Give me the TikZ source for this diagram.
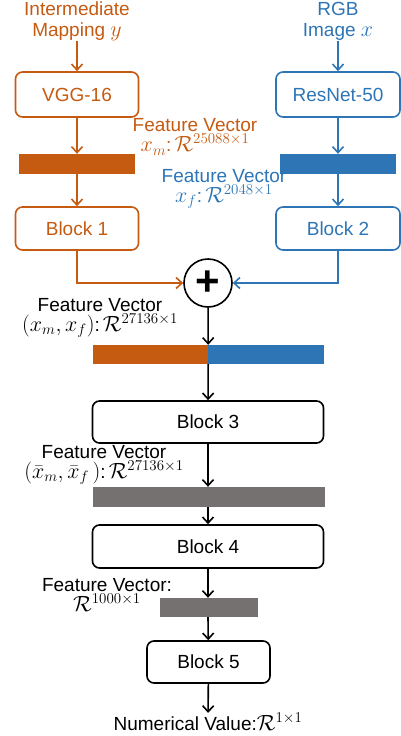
\RequirePackage{fix-cm}
\documentclass[tikz,border=0pt]{standalone}
\usepackage{amsmath}
\usepackage{fontspec}
\setmainfont{Liberation Sans}
\DeclareMathSizes{19}{22}{15}{11}
\usepackage{tikz}
\usetikzlibrary{arrows.meta,positioning}
\definecolor{vggorange}{HTML}{C55A11}
\definecolor{resblue}{HTML}{2E75B6}
\definecolor{vecgray}{HTML}{767171}

\begin{document}
\begin{tikzpicture}[
  x=1pt,y=-1pt,
  font=\fontsize{19}{20}\selectfont,
  block/.style={rectangle,draw=black,rounded corners=7pt,line width=1.6pt,
    minimum width=123pt,minimum height=43pt,inner sep=0pt,align=center},
  wideblock/.style={block,minimum width=231pt},
  vecbar/.style={rectangle,inner sep=0pt,minimum height=20pt},
  lbl/.style={align=center,inner sep=0pt},
  title/.style={lbl,anchor=north,font=\fontsize{19}{21}\selectfont},
  arrow/.style={-{Straight Barb[length=6pt,width=11pt]},line width=1.6pt,black},
]
\useasboundingbox (0,0) rectangle (400,736);

% Inputs
\node[title,text=vggorange] (inmap) at (77,2) {Intermediate\\Mapping $y$};
\node[title,text=resblue] (rgb) at (338,2) {RGB\\Image $x$};

% Two branches
\node[block,draw=vggorange,text=vggorange,minimum height=45pt] (vgg) at (77,94.5) {VGG-16};
\node[vecbar,fill=vggorange,minimum width=116pt] (vecm) at (77,164) {};
\node[block,draw=vggorange,text=vggorange] (blk1) at (77,228.5) {Block 1};

\node[block,draw=resblue,text=resblue,minimum width=124pt,minimum height=45pt] (resnet) at (338,94.5) {ResNet-50};
\node[vecbar,fill=resblue,minimum width=116pt] (vecf) at (338,164) {};
\node[block,draw=resblue,text=resblue,minimum width=124pt] (blk2) at (338,228.5) {Block 2};

\node[lbl,text=vggorange] (lblm) at (195,137) {Feature Vector\\$x_m$:\,$\mathcal{R}^{25088\times1}$};
\node[lbl,text=resblue] (lblf) at (224,189) {Feature Vector\\$x_f$:\,$\mathcal{R}^{2048\times1}$};

% Fusion
\node[circle,draw=black,line width=1.6pt,minimum size=48pt,inner sep=0pt] (plus) at (208,283)
  {\fontsize{42}{42}\selectfont\bfseries +};
\node[vecbar,fill=vggorange,minimum width=115pt,minimum height=19pt] (catm) at (150.5,354.5) {};
\node[vecbar,fill=resblue,minimum width=116pt,minimum height=19pt] (catf) at (266,354.5) {};
\node[lbl] (lblcat) at (100,318) {Feature Vector\\$(x_m,x_f)$:\,$\mathcal{R}^{27136\times1}$};

% Shared trunk
\node[wideblock,minimum height=42pt] (blk3) at (208,422) {Block 3};
\node[vecbar,fill=vecgray,minimum width=232pt] (vecbar3) at (208.5,497) {};
\node[lbl] (lbl3) at (104,465) {Feature Vector\\$(\bar{x}_m,\bar{x}_f\,)$:\,$\mathcal{R}^{27136\times1}$};

\node[wideblock] (blk4) at (208,546.5) {Block 4};
\node[vecbar,fill=vecgray,minimum width=98pt,minimum height=19pt] (vecbar4) at (209,607.5) {};
\node[lbl] (lbl4) at (107,595) {Feature Vector:\\$\mathcal{R}^{1000\times1}$};

\node[block,minimum height=42pt] (blk5) at (208.5,662) {Block 5};
\node[lbl] (out) at (208,722) {Numerical Value:$\mathcal{R}^{1\times1}$};

% Arrows
\draw[arrow,vggorange] (inmap) -- (vgg);
\draw[arrow,vggorange] (vgg) -- (vecm);
\draw[arrow,vggorange] (vecm) -- (blk1);
\draw[arrow,resblue] (rgb) -- (resnet);
\draw[arrow,resblue] (resnet) -- (vecf);
\draw[arrow,resblue] (vecf) -- (blk2);
\draw[arrow,vggorange] (blk1.south) |- (plus.west);
\draw[arrow,resblue] (blk2.south) |- (plus.east);
\draw[arrow] (plus) -- (catm.north east);
\draw[arrow] (catm.south east) -- (blk3);
\draw[arrow] (blk3) -- (vecbar3.north -| blk3);
\draw[arrow] (vecbar3.south -| blk3) -- (blk4);
\draw[arrow] (blk4) -- (vecbar4.north -| blk4);
\draw[arrow] (vecbar4.south -| blk4) -- (blk5);
\draw[arrow] (blk5) -- (out);

\end{tikzpicture}
\end{document}
